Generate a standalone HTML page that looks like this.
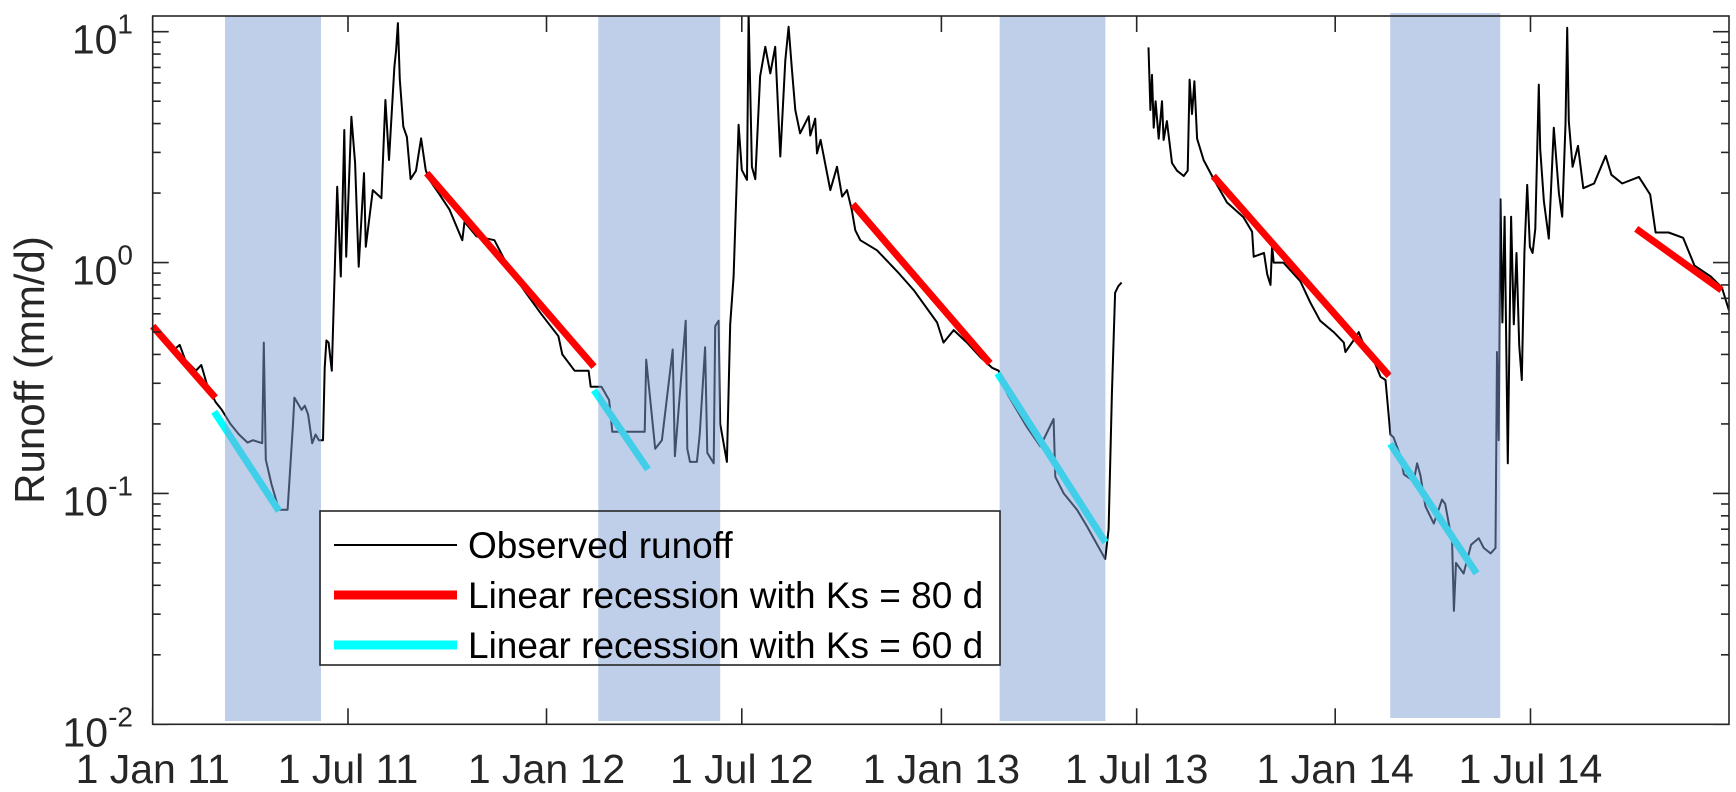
<!DOCTYPE html>
<html><head><meta charset="utf-8"><style>
html,body{margin:0;padding:0;background:#fff;}
svg{display:block;font-family:"Liberation Sans",Arial,sans-serif;}
</style></head><body>
<svg id="chart" width="1736" height="792" viewBox="0 0 1736 792" xmlns="http://www.w3.org/2000/svg">
<g id="plot"></g>
</svg>
<script>
// ---- data ----
const obsDays = [0,10,20,25,30,40,45,50,58,64,72,80,88,93,101.5,103,104.8,110,117,125,130,131.3,138,141,144,147.8,151,154,157.8,159.4,161,163,166,171,174.3,177.6,179.3,184.2,187.6,190.9,195.8,197.5,204,212,215.7,219,224,225.6,227.3,229,232.3,235.6,239,244,248.8,253,256,265,275,287,289,300,316.7,330,345,360,376,379.6,391,404,406,416,423,426,456,457.4,465.7,472,482,484,494,495.5,498,504.4,507,512,514,520,521.4,524.5,526,532.2,535.3,538.4,543,546,550.8,552.3,555.4,558.5,563,567.8,572.4,577,581.7,586.3,589.4,592.5,595.6,600,608,609.5,614,615.7,619,625,628,634.2,639,643.5,648,651.2,655.8,671.3,691.4,705.3,727,733,742.4,754.7,767,778,784,792,810,822.7,835,836.6,844.4,856.7,866,882.8,886,889,892,895,898,910,
923,924.7,926.2,927.8,929.5,932.4,935.5,937,940,944.7,949.4,955.6,959.3,961.1,963.3,965.5,968,974,983.4,995.7,1011,1019,1020.5,1030,1033,1036,1037.5,1039,1048,1063.7,1073,1082,1094.6,1104,1105.5,1113,1117.8,1122.5,1128.6,1138,1142.6,1147.2,1150,1156.5,1159.6,1168.8,1171.9,1175,1179.6,1187.4,1195,1198,1201.3,1204.4,1206,1208,1215,1222,1229,1233.7,1240,1244.6,1246,1247.5,1249.2,1251,1253,1256,1259,1261.5,1264,1266.5,1269,1271.4,1274,1276.5,1279,1281.5,1284.7,1286,1289.4,1294,1298.6,1303.3,1306.4,1309.5,1311,1312.5,1316,1321,1326,1336,1346.7,1352,1362,1377.5,1388,1393,1405,1418.5,1429,1444,1454.4,1461];
const obsValues = [0.52,0.46,0.42,0.44,0.38,0.34,0.36,0.30,0.25,0.23,0.20,0.18,0.166,0.17,0.165,0.45,0.14,0.11,0.085,0.085,0.2,0.26,0.23,0.24,0.22,0.165,0.18,0.17,0.17,0.35,0.46,0.45,0.34,2.13,0.87,3.75,1.06,4.28,2.7,0.96,2.44,1.17,2.06,1.9,5.06,2.78,7.06,8.3,10.9,6.2,3.88,3.5,2.3,2.5,3.45,2.52,2.3,2.0,1.7,1.25,1.5,1.3,1.25,0.95,0.75,0.6,0.48,0.40,0.34,0.34,0.29,0.29,0.254,0.185,0.185,0.38,0.156,0.17,0.42,0.145,0.56,0.156,0.137,0.137,0.18,0.43,0.15,0.135,0.53,0.56,0.2,0.137,0.54,0.87,3.95,2.52,2.28,12,2.6,2.3,6.4,8.6,6.6,8.6,2.88,7.5,10.5,6.8,4.58,3.63,4.3,3.55,4.2,2.97,3.4,2.44,2.06,2.6,1.93,2.06,1.69,1.38,1.25,1.13,0.90,0.76,0.55,0.45,0.51,0.45,0.39,0.35,0.34,0.27,0.195,0.16,0.21,0.118,0.10,0.085,0.072,0.052,0.07,0.27,0.74,0.79,0.82,null,
8.55,4.58,6.5,3.84,5,3.44,5.0,3.4,4.1,2.7,2.5,2.37,2.5,6.2,4.4,6.1,3.44,2.78,2.3,1.82,1.57,1.36,1.06,1.1,0.89,0.8,1.18,1.0,1.0,0.83,0.67,0.56,0.50,0.45,0.41,0.46,0.50,0.44,0.41,0.32,0.31,0.18,0.175,0.145,0.121,0.113,0.135,0.12,0.088,0.074,0.094,0.09,0.074,0.0615,0.031,0.05,0.045,0.06,0.064,0.058,0.055,0.058,0.41,0.17,1.88,0.55,1.58,0.135,1.58,0.54,1.1,0.44,0.31,1.1,2.17,1.17,1.1,1.4,5.9,3.1,1.84,1.27,3.84,2.0,1.58,3.97,10.4,4.1,2.6,3.2,2.1,2.2,2.9,2.4,2.2,2.35,1.97,1.35,1.35,1.28,0.97,0.87,0.78,0.62];
const redStartDay = [0,254,649,983,1375];
const redEndDay = [58,409,776,1146,1454];
const redStartValue = [0.53,2.44,1.79,2.37,1.40];
const redEndValue = [0.26,0.354,0.366,0.323,0.76];
const cyanStartDay = [57,409,783,1147];
const cyanEndDay = [117,459,883,1227];
const cyanStartValue = [0.226,0.28,0.331,0.164];
const cyanEndValue = [0.084,0.127,0.0614,0.045];
const bandStartDay = [67,413,785,1147];
const bandEndDay = [156,526,883,1249];
const xTickDays = [0,181,365,546,731,912,1096,1277];
const xTickLabels = ["1 Jan 11","1 Jul 11","1 Jan 12","1 Jul 12","1 Jan 13","1 Jul 13","1 Jan 14","1 Jul 14"];
const yTickExps = [-2,-1,0,1];

// ---- scales ----
const L=152.7,R=1729,T=16,B=724.3;
const DAYMAX=1461, LOGMIN=-2, LOGMAX=1+(31.7-16)/230.9;
const xs=d=>L+(d/DAYMAX)*(R-L);
const ys=v=>B-(Math.log10(v)-LOGMIN)/(LOGMAX-LOGMIN)*(B-T);
const NS="http://www.w3.org/2000/svg";
const g=document.getElementById('plot');
function mk(tag,attrs,parent){const e=document.createElementNS(NS,tag);for(const k in attrs)e.setAttribute(k,attrs[k]);(parent||g).appendChild(e);return e;}

// clip
const defs=mk('defs',{});
const cp=mk('clipPath',{id:'clip'},defs);
mk('rect',{x:L,y:T,width:R-L,height:B-T},cp);

// observed
let d='',pen=false;
for(let i=0;i<obsDays.length;i++){
  if(obsValues[i]==null){pen=false;continue;}
  d+=(pen?'L':'M')+xs(obsDays[i]).toFixed(1)+','+ys(obsValues[i]).toFixed(1);pen=true;
}
const obs=mk('path',{d:d,fill:'none',stroke:'#000','stroke-width':2,'stroke-linejoin':'round','clip-path':'url(#clip)'});



for(let i=0;i<redStartDay.length;i++){
  const l=mk('line',{x1:xs(redStartDay[i]),y1:ys(redStartValue[i]),x2:xs(redEndDay[i]),y2:ys(redEndValue[i]),stroke:'#ff0000','stroke-width':7});
  
  
}
for(let i=0;i<cyanStartDay.length;i++){
  const l=mk('line',{x1:xs(cyanStartDay[i]),y1:ys(cyanStartValue[i]),x2:xs(cyanEndDay[i]),y2:ys(cyanEndValue[i]),stroke:'#00ffff','stroke-width':7});
  
  
}
// bands
for(let i=0;i<bandStartDay.length;i++){
  const top=i===3?13:16, bot=i===3?718:721;
  const r=mk('rect',{x:xs(bandStartDay[i]),y:top,width:xs(bandEndDay[i])-xs(bandStartDay[i]),height:bot-top,fill:'rgb(127,157,211)','fill-opacity':0.5});
  
  
}
// axes box
const box=mk('rect',{x:L,y:T,width:R-L,height:B-T,fill:'none',stroke:'#262626','stroke-width':1.6});


// x ticks
for(let i=0;i<xTickDays.length;i++){
  const x=xs(xTickDays[i]);
  mk('line',{x1:x,y1:B,x2:x,y2:B-16,stroke:'#262626','stroke-width':1.6});
  mk('line',{x1:x,y1:T,x2:x,y2:T+16,stroke:'#262626','stroke-width':1.6});
  const t=mk('text',{x:x,y:783,'text-anchor':'middle','font-size':41,fill:'#262626'});
  t.textContent=xTickLabels[i];
  
  
}
// y ticks
for(let e=-2;e<=1;e++){
  for(let m=1;m<=9;m++){
    const v=m*Math.pow(10,e); const y=ys(v);
    if(y<T-0.5) continue;
    const len=m===1?16:8;
    mk('line',{x1:L,y1:y,x2:L+len,y2:y,stroke:'#262626','stroke-width':1.6});
    mk('line',{x1:R,y1:y,x2:R-len,y2:y,stroke:'#262626','stroke-width':1.6});
  }
}
for(const e of yTickExps){
  const y=ys(Math.pow(10,e));
  const t=mk('text',{x:133,y:y+22,'text-anchor':'end','font-size':41,fill:'#262626'});
  
  
  const a=document.createElementNS(NS,'tspan');a.textContent='10';t.appendChild(a);
  const b=document.createElementNS(NS,'tspan');b.setAttribute('dy','-20');b.setAttribute('font-size','28');b.textContent=String(e);t.appendChild(b);
}
const yt=mk('text',{x:0,y:0,'text-anchor':'middle','font-size':42,fill:'#262626',transform:'translate(44,370) rotate(-90)'});
yt.textContent='Runoff (mm/d)';



// legend
const lg=mk('g',{});


mk('rect',{x:320,y:511,width:680,height:154,fill:'none',stroke:'#262626','stroke-width':1.6},lg);
const entries=[['Observed runoff','#000',2,545],['Linear recession with Ks = 80 d','#ff0000',9,595],['Linear recession with Ks = 60 d','#00ffff',9,645]];
for(const [txt,col,w,y] of entries){
  const e=mk('g',{},lg);
  
  
  mk('line',{x1:334,y1:y,x2:457,y2:y,stroke:col,'stroke-width':w},e);
  const t=mk('text',{x:468,y:y+13,'font-size':37,fill:'#000'},e);
  t.textContent=txt;
}
</script>
</body></html>
